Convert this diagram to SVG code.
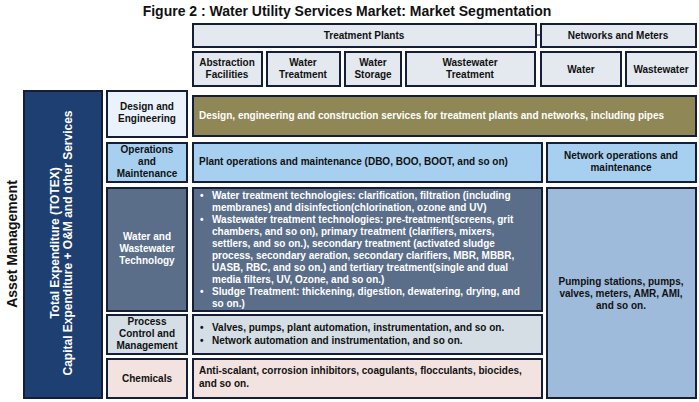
<svg xmlns="http://www.w3.org/2000/svg" width="699" height="402" viewBox="0 0 699 402">
<style>
text{font-family:"Liberation Sans",Arial,sans-serif;font-weight:bold;}
.hdr{fill:#e3e9ef;stroke:#141e36;stroke-width:2;}
.ht{font-size:10px;fill:#111;text-anchor:middle;}
.box{stroke:#141e36;stroke-width:2;}
.lt{font-size:10px;fill:#111;text-anchor:middle;}
.lw{font-size:10px;fill:#ffffff;text-anchor:middle;}
.ct{font-size:10px;fill:#111;}
.wt{font-size:10px;fill:#fff;}
</style>
<rect width="699" height="402" fill="#fff"/>
<text x="347" y="16" font-size="14" text-anchor="middle" fill="#111">Figure 2 : Water Utility Services Market: Market Segmentation</text>

<g id="treatment-plants"><rect class="hdr" x="193" y="24" width="343" height="23"/><text class="ht" x="364" y="39">Treatment Plants</text></g>
<g id="networks-meters"><rect class="hdr" x="541" y="24" width="155" height="23"/><text class="ht" x="618" y="39">Networks and Meters</text></g>
<g id="connectors"><line x1="536" y1="35" x2="541" y2="35" stroke="#141e36" stroke-width="1"/></g>

<g id="abstraction"><rect class="hdr" x="193" y="52" width="69" height="34"/><text class="ht" x="227" y="66">Abstraction</text><text class="ht" x="227" y="78">Facilities</text></g>
<g id="water-treatment"><rect class="hdr" x="267" y="52" width="73" height="34"/><text class="ht" x="303" y="66">Water</text><text class="ht" x="303" y="78">Treatment</text></g>
<g id="water-storage"><rect class="hdr" x="345" y="52" width="56" height="34"/><text class="ht" x="373" y="66">Water</text><text class="ht" x="373" y="78">Storage</text></g>
<g id="wastewater-treatment"><rect class="hdr" x="406" y="52" width="129" height="34"/><text class="ht" x="470" y="66">Wastewater</text><text class="ht" x="470" y="78">Treatment</text></g>
<g id="water"><rect class="hdr" x="541" y="52" width="80" height="34"/><text class="ht" x="581" y="73">Water</text></g>
<g id="wastewater"><rect class="hdr" x="626" y="52" width="70" height="34"/><text class="ht" x="661" y="73">Wastewater</text></g>

<g id="asset-management"><text x="17" y="244" font-size="14" fill="#111" text-anchor="middle" transform="rotate(-90 17 244)">Asset Management</text></g>
<g id="totex"><rect class="box" x="24" y="91" width="78" height="307" fill="#1e3f72"/>
<text x="59" y="243" font-size="12" fill="#fff" text-anchor="middle" transform="rotate(-90 59 243)">Total Expenditure (TOTEX)</text>
<text x="72" y="243" font-size="12" fill="#fff" text-anchor="middle" transform="rotate(-90 72 243)">Capital Expenditure + O&amp;M and other Services</text></g>

<g id="design-label"><rect class="box" x="107" y="91" width="80" height="46" fill="#eaf3fb"/><text class="lt" x="147" y="110">Design and</text><text class="lt" x="147" y="122">Engineering</text></g>
<g id="ops-label"><rect class="box" x="107" y="143" width="80" height="39" fill="#a7d0f0"/><text class="lt" x="147" y="153">Operations</text><text class="lt" x="147" y="165">and</text><text class="lt" x="147" y="177">Maintenance</text></g>
<g id="tech-label"><rect class="box" x="107" y="188" width="80" height="123" fill="#5a6e89"/><text class="lw" x="147" y="240" style="fill:#ffffff">Water and</text><text class="lw" x="147" y="252" style="fill:#ffffff">Wastewater</text><text class="lw" x="147" y="264" style="fill:#ffffff">Technology</text></g>
<g id="process-label"><rect class="box" x="107" y="315" width="80" height="39" fill="#d5dee5"/><text class="lt" x="147" y="325">Process</text><text class="lt" x="147" y="337">Control and</text><text class="lt" x="147" y="349">Management</text></g>
<g id="chem-label"><rect class="box" x="107" y="359" width="80" height="39" fill="#f2e3e0"/><text class="lt" x="147" y="382">Chemicals</text></g>

<g id="design-content"><rect class="box" x="193" y="96" width="503" height="40" fill="#8f8856"/><text class="wt" x="199" y="119">Design, engineering and construction services for treatment plants and networks, including pipes</text></g>
<g id="plant-ops"><rect class="box" x="193" y="143" width="349" height="39" fill="#a7d0f0"/><text class="ct" x="199" y="165">Plant operations and maintenance (DBO, BOO, BOOT, and so on)</text></g>
<g id="network-ops"><rect class="box" x="547" y="143" width="149" height="39" fill="#a7d0f0"/><text class="lt" x="621" y="159">Network operations and</text><text class="lt" x="621" y="171">maintenance</text></g>
<g id="tech-content"><rect class="box" x="193" y="188" width="349" height="123" fill="#5a6e89"/>
<text class="wt" x="200" y="199">•</text><text class="wt" x="212" y="199">Water treatment technologies: clarification, filtration (including</text>
<text class="wt" x="212" y="211">membranes) and disinfection(chlorination, ozone and UV)</text>
<text class="wt" x="200" y="223">•</text><text class="wt" x="212" y="223">Wastewater treatment technologies: pre-treatment(screens, grit</text>
<text class="wt" x="212" y="235">chambers, and so on), primary treatment (clarifiers, mixers,</text>
<text class="wt" x="212" y="247">settlers, and so on.), secondary treatment (activated sludge</text>
<text class="wt" x="212" y="259">process, secondary aeration, secondary clarifiers, MBR, MBBR,</text>
<text class="wt" x="212" y="271">UASB, RBC, and so on.) and tertiary treatment(single and dual</text>
<text class="wt" x="212" y="283">media filters, UV, Ozone, and so on.)</text>
<text class="wt" x="200" y="295">•</text><text class="wt" x="212" y="295">Sludge Treatment: thickening, digestion, dewatering, drying, and</text>
<text class="wt" x="212" y="307">so on.)</text></g>
<g id="pumping"><rect class="box" x="547" y="188" width="149" height="210" fill="#9ebbdc"/><text class="lt" x="621" y="285">Pumping stations, pumps,</text><text class="lt" x="621" y="297">valves, meters, AMR, AMI,</text><text class="lt" x="621" y="309">and so on.</text></g>
<g id="process-content"><rect class="box" x="193" y="315" width="349" height="39" fill="#d5dee5"/>
<text class="ct" x="200" y="331">•</text><text class="ct" x="212" y="331">Valves, pumps, plant automation, instrumentation, and so on.</text>
<text class="ct" x="200" y="344">•</text><text class="ct" x="212" y="344">Network automation and instrumentation, and so on.</text></g>
<g id="chem-content"><rect class="box" x="193" y="359" width="349" height="39" fill="#f2e3e0"/>
<text class="ct" x="199" y="374">Anti-scalant, corrosion inhibitors, coagulants, flocculants, biocides,</text>
<text class="ct" x="199" y="387">and so on.</text></g>
</svg>
